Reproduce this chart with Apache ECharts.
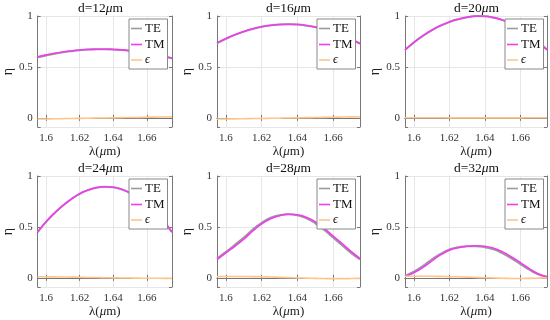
<!DOCTYPE html>
<html><head><meta charset="utf-8">
<script src="https://cdn.jsdelivr.net/npm/echarts@6/dist/echarts.min.js"></script>
<style>html,body{margin:0;padding:0;background:#fff}#c{width:550px;height:320px}</style>
</head><body><div id="c"></div><script>
const lambda = [1.595,1.600,1.605,1.610,1.615,1.620,1.625,1.630,1.635,1.640,1.645,1.650,1.655,1.660,1.665,1.670,1.675];
const thickness = ['12','16','20','24','28','32'];
const xTicks = [1.6, 1.62, 1.64, 1.66];
const yTicks = [0, 0.5, 1];

const te12 = [0.594,0.613,0.630,0.644,0.655,0.664,0.670,0.673,0.674,0.672,0.667,0.659,0.649,0.637,0.622,0.604,0.586];
const tm12 = [0.600,0.618,0.634,0.647,0.657,0.666,0.671,0.673,0.674,0.671,0.667,0.659,0.649,0.637,0.622,0.604,0.585];
const ep12 = [-0.012,-0.011,-0.009,-0.008,-0.006,-0.005,-0.004,-0.002,-0.001,0.000,0.002,0.003,0.004,0.006,0.007,0.008,0.009];

const te16 = [0.732,0.776,0.815,0.847,0.873,0.894,0.908,0.917,0.919,0.916,0.906,0.891,0.870,0.844,0.812,0.773,0.730];
const tm16 = [0.736,0.779,0.817,0.848,0.874,0.894,0.908,0.917,0.919,0.916,0.906,0.891,0.870,0.844,0.811,0.772,0.728];
const ep16 = [-0.012,-0.011,-0.010,-0.009,-0.007,-0.006,-0.004,-0.003,-0.001,0.000,0.002,0.003,0.005,0.006,0.008,0.009,0.011];

const te20 = [0.666,0.740,0.804,0.859,0.905,0.941,0.968,0.988,0.999,0.997,0.984,0.960,0.925,0.878,0.816,0.746,0.670];
const tm20 = [0.668,0.742,0.805,0.860,0.905,0.941,0.968,0.988,0.999,0.997,0.984,0.960,0.925,0.878,0.815,0.745,0.668];
const ep20 = [0.001,0.001,0.001,0.001,0.001,0.000,0.000,0.000,0.000,0.000,0.000,0.000,0.000,0.000,0.001,0.001,0.001];

const te24 = [0.448,0.549,0.635,0.710,0.772,0.825,0.862,0.886,0.895,0.889,0.869,0.834,0.785,0.720,0.643,0.553,0.449];
const tm24 = [0.450,0.550,0.635,0.710,0.772,0.825,0.862,0.886,0.895,0.890,0.870,0.835,0.787,0.722,0.645,0.555,0.450];
const ep24 = [0.010,0.010,0.009,0.008,0.007,0.006,0.004,0.003,0.001,0.000,-0.001,-0.002,-0.003,-0.004,-0.004,-0.005,-0.005];

const te28 = [0.190,0.255,0.325,0.395,0.475,0.540,0.590,0.615,0.625,0.615,0.585,0.535,0.470,0.395,0.320,0.245,0.180];
const tm28 = [0.180,0.245,0.310,0.380,0.460,0.530,0.580,0.610,0.625,0.620,0.595,0.550,0.485,0.410,0.335,0.260,0.190];
const ep28 = [0.012,0.013,0.013,0.013,0.012,0.011,0.008,0.005,0.002,-0.001,-0.003,-0.005,-0.007,-0.008,-0.008,-0.007,-0.005];

const te32 = [0.018,0.060,0.115,0.180,0.235,0.280,0.300,0.310,0.310,0.300,0.280,0.240,0.190,0.135,0.080,0.035,0.008];
const tm32 = [0.013,0.050,0.100,0.165,0.225,0.270,0.295,0.310,0.315,0.310,0.290,0.255,0.205,0.150,0.090,0.040,0.010];
const ep32 = [0.015,0.016,0.016,0.015,0.014,0.012,0.010,0.007,0.004,0.001,-0.002,-0.004,-0.006,-0.006,-0.005,-0.003,0.000];

const TE = [te12, te16, te20, te24, te28, te32];
const TM = [tm12, tm16, tm20, tm24, tm28, tm32];
const EP = [ep12, ep16, ep20, ep24, ep28, ep32];

const FONT = 'Liberation Serif';
const frame = '#777';
const colLeft = [29, 217, 405];
const rowTop = [16, 176];
const W = 143, H = 111;
const xMin = 1.595, xMax = 1.675, yMin = -0.09, yMax = 1;

const pair = a => lambda.map((x, i) => [x, a[i]]);
const near = (list, v) => list.find(t => Math.abs(t - v) < 1e-9);

const grid = [], xAxis = [], yAxis = [], series = [], legend = [], title = [];
for (let p = 0; p < 6; p++) {
  const left = colLeft[p % 3], top = rowTop[Math.floor(p / 3)];
  grid.push({ left, top, width: W, height: H, show: false });
  xAxis.push({
    type: 'value', gridIndex: p, min: xMin, max: xMax, splitNumber: 4,
    axisLine: { show: true, lineStyle: { color: frame, width: 1 } },
    axisTick: { show: true, inside: true, length: 3, lineStyle: { color: frame } },
    axisLabel: { show: true, margin: 6, fontFamily: FONT, fontSize: 11, color: '#333',
      formatter: v => { const t = near(xTicks, v); return t === undefined ? '' : String(t); } },
    splitLine: { show: true, lineStyle: { color: '#e6e6e6', width: 1 } },
    name: '{n|λ(}{i|μ}{n|m)}', nameLocation: 'middle', nameGap: 18,
    nameTextStyle: { fontFamily: FONT, fontSize: 13, color: '#222',
      rich: { n: { fontFamily: FONT, fontSize: 13, color: '#222' },
              i: { fontFamily: FONT, fontSize: 13, color: '#222', fontStyle: 'italic' } } }
  });
  xAxis.push({
    type: 'value', gridIndex: p, min: xMin, max: xMax, splitNumber: 4, position: 'top',
    axisLine: { show: true, lineStyle: { color: frame, width: 1 } },
    axisTick: { show: true, inside: true, length: 3, lineStyle: { color: frame } },
    axisLabel: { show: false }, splitLine: { show: false }
  });
  yAxis.push({
    type: 'value', gridIndex: p, min: yMin, max: yMax, splitNumber: 2,
    axisLine: { show: true, lineStyle: { color: frame, width: 1 } },
    axisTick: { show: true, inside: true, length: 3, lineStyle: { color: frame } },
    axisLabel: { show: true, margin: 5, fontFamily: FONT, fontSize: 11, color: '#333',
      formatter: v => { const t = near(yTicks, v); return t === undefined ? '' : String(t); } },
    splitLine: { show: true, lineStyle: { color: '#e6e6e6', width: 1 } },
    name: 'η', nameLocation: 'middle', nameGap: 18, nameRotate: 90,
    nameTextStyle: { fontFamily: FONT, fontSize: 14, color: '#222' }
  });
  yAxis.push({
    type: 'value', gridIndex: p, min: yMin, max: yMax, splitNumber: 2, position: 'right',
    axisLine: { show: true, lineStyle: { color: frame, width: 1 } },
    axisTick: { show: true, inside: true, length: 3, lineStyle: { color: frame } },
    axisLabel: { show: false }, splitLine: { show: false }
  });
  const common = { type: 'line', xAxisIndex: 2 * p, yAxisIndex: 2 * p, symbol: 'none', smooth: true, animation: false };
  series.push(Object.assign({ name: 'TE', data: pair(TE[p]), lineStyle: { color: '#9a9a9a', width: 2 }, itemStyle: { color: '#9a9a9a' }, z: 2 }, common));
  series.push(Object.assign({ name: 'TM', data: pair(TM[p]), lineStyle: { color: '#f03cf0', width: 1.6 }, itemStyle: { color: '#f03cf0' }, z: 3 }, common));
  series.push(Object.assign({ name: 'ϵ', data: pair(EP[p]), lineStyle: { color: '#ffc48a', width: 1.6 }, itemStyle: { color: '#ffc48a' }, z: 4 }, common));
  legend.push({
    data: ['TE', 'TM', 'ϵ'], orient: 'vertical', left: left + 100, top: top + 3,
    backgroundColor: '#fff', borderColor: '#888', borderWidth: 1, borderRadius: 0,
    padding: [3, 3, 3, 2], itemGap: 3, itemWidth: 11, itemHeight: 1.6, icon: 'rect',
    selectedMode: false, z: 10,
    textStyle: { fontFamily: FONT, fontSize: 13, color: '#111', padding: [0, 0, 0, -2],
      rich: { i: { fontFamily: FONT, fontSize: 12, fontStyle: 'italic', color: '#111' } } },
    formatter: n => n === 'ϵ' ? '{i|ϵ}' : n
  });
  title.push({
    text: 'd=' + thickness[p] + '{i|μ}m', left: left + W / 2, top: top - 15, textAlign: 'center', padding: 0,
    textStyle: { fontFamily: FONT, fontSize: 13.5, fontWeight: 'normal', color: '#111',
      rich: { i: { fontFamily: FONT, fontSize: 13.5, fontStyle: 'italic', color: '#111' } } }
  });
}

const chart = echarts.init(document.getElementById('c'), null, { renderer: 'canvas' });
chart.setOption({ backgroundColor: '#fff', animation: false, grid, xAxis, yAxis, series, legend, title });
</script></body></html>
